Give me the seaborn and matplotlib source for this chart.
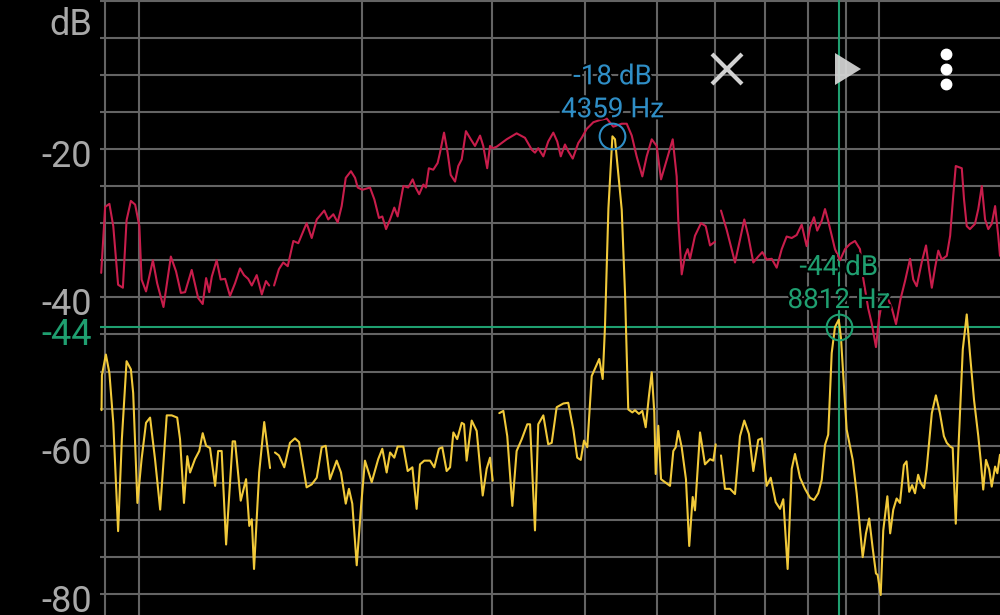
import matplotlib
matplotlib.use("Agg")
import matplotlib.pyplot as plt
import matplotlib.patheffects as pe
from matplotlib.lines import Line2D
from matplotlib.patches import Polygon
from matplotlib.ticker import NullLocator
from matplotlib.transforms import blended_transform_factory
import pandas as pd
import seaborn as sns

# ---------------- data (frequency in kHz, level in dB; None = gap) ----------------
red_khz = [0.889, 0.900, 0.912, 0.923, 0.937, 0.951, 0.962, 0.975, 0.988, 1.001,
           1.008, 1.022, 1.044, 1.058, 1.079, 1.104, 1.122, 1.139, 1.154, 1.178,
           1.202, 1.219, 1.232, 1.244, 1.254, 1.273, 1.289, 1.307, 1.327, 1.348,
           1.369, 1.386, 1.404, 1.420, 1.442, 1.465, 1.484, 1.499, None,
           1.522, 1.545, 1.566, 1.588, 1.616, 1.641, 1.684, 1.711, 1.738, 1.779,
           1.801, 1.830, 1.855, 1.878, 1.902, 1.933, 1.958, 1.974, 2.003, 2.051,
           2.079, 2.109, 2.131, 2.156, 2.183, 2.212, 2.235, 2.275, 2.310, 2.342,
           2.364, 2.390, 2.421, 2.441, 2.463, 2.497, 2.531, 2.550, 2.582, 2.611,
           2.636, 2.672, 2.699, 2.728, 2.764, 2.806, 2.843, 2.888, 2.917, 2.953,
           2.979, 3.004, 3.041, 3.137, 3.236, 3.321, 3.392, 3.426, 3.461, 3.516,
           3.570, 3.627, 3.672, 3.712, 3.761, 3.799, 3.853, 3.920, 3.962, 4.024,
           4.108, 4.194, 4.282, 4.371, 4.487, 4.557, 4.629, 4.700, 4.784, 4.849,
           4.926, 5.002, 5.070, 5.160, 5.258, 5.323, 5.349, 5.407, 5.463, 5.508,
           5.549, 5.635, 5.742, 5.826, 5.905, 5.997, None,
           6.110, 6.219, 6.382, 6.482, 6.569, 6.650, 6.756, 6.860, 6.948, 7.042,
           7.154, 7.265, 7.380, 7.494, 7.613, 7.731, 7.853, 7.975, 8.059, 8.159,
           8.241, 8.357, 8.443, 8.528, 8.709, 8.847, 8.985, 9.126, 9.268, 9.414,
           9.511, 9.658, 9.763, 9.893, 9.984, 10.08, 10.23, 10.39, 10.53, 10.68,
           10.83, 11.00, 11.11, 11.23, 11.41, 11.56, 11.67, 11.77, 11.89, 12.01,
           12.14, 12.33, 12.46, 12.58, 12.68, 12.92, 13.01, 13.12, 13.25, 13.46,
           13.60, 13.75, 13.89, 14.03, 14.18, 14.33, 14.47, 14.55]
red_db = [-36.7, -27.8, -27.4, -30.4, -38.3, -38.7, -29.6, -27.0, -27.5, -30.4,
          -37.6, -39.2, -35.0, -38.1, -41.3, -34.5, -36.5, -39.4, -39.3, -36.3,
          -40.1, -40.9, -37.4, -39.3, -37.2, -35.0, -37.6, -37.5, -39.8, -38.1,
          -36.1, -37.0, -37.5, -38.4, -37.0, -39.6, -37.8, -38.4, None,
          -38.4, -36.2, -35.3, -35.8, -32.4, -32.7, -30.0, -32.0, -29.5, -28.3,
          -29.5, -28.8, -29.9, -27.7, -23.9, -23.0, -23.9, -25.2, -25.5, -25.2,
          -26.8, -29.3, -29.1, -30.8, -29.5, -27.9, -29.1, -25.0, -25.2, -24.1,
          -25.2, -26.1, -24.8, -25.2, -22.6, -22.8, -21.9, -20.5, -17.8, -20.5,
          -23.5, -24.4, -22.3, -21.4, -17.6, -18.7, -19.6, -18.2, -19.6, -22.6,
          -19.6, -19.9, -19.7, -18.7, -17.9, -18.5, -20.1, -20.5, -19.9, -21.0,
          -19.0, -17.8, -19.0, -21.0, -19.4, -20.3, -21.3, -19.2, -18.5, -17.3,
          -16.4, -16.1, -15.9, -17.0, -16.6, -16.6, -18.2, -21.0, -23.7, -21.0,
          -18.7, -19.6, -24.1, -21.5, -18.7, -23.7, -29.5, -36.9, -34.4, -33.5,
          -34.8, -31.7, -30.0, -30.4, -33.0, -32.5, None,
          -28.3, -30.9, -35.3, -32.2, -29.5, -31.7, -35.3, -34.5, -33.9, -34.9,
          -34.8, -36.0, -33.5, -31.8, -32.0, -31.6, -30.2, -33.1, -30.6, -29.2,
          -31.0, -29.7, -28.1, -29.7, -33.5, -35.0, -33.5, -32.8, -32.4, -33.5,
          -37.5, -41.5, -43.5, -46.7, -43.0, -40.6, -39.8, -41.4, -43.6, -40.2,
          -37.8, -34.8, -37.6, -38.5, -35.2, -33.0, -36.2, -38.7, -36.0, -33.7,
          -34.9, -34.4, -31.7, -26.3, -22.3, -22.6, -26.8, -30.4, -30.8, -30.1,
          -28.1, -25.0, -29.5, -30.8, -30.1, -27.7, -31.7, -34.4]

yel_khz = [0.890, 0.891, 0.902, 0.912, 0.923, 0.937, 0.948, 0.962, 0.975, 0.982,
           0.995, 1.008, 1.022, 1.035, 1.051, 1.068, 1.090, 1.107, 1.126, 1.136,
           1.150, 1.162, 1.172, 1.190, 1.206, 1.219, 1.232, 1.247, 1.267, 1.279,
           1.293, 1.311, 1.338, 1.348, 1.372, 1.395, 1.409, 1.420, 1.430, 1.453,
           1.476, 1.503, None,
           1.526, 1.545, 1.571, 1.599, 1.624, 1.645, 1.684, 1.711, 1.738, 1.765,
           1.787, 1.811, 1.849, 1.874, 1.902, 1.921, 1.941, 1.968, 1.995, 2.019,
           2.062, 2.104, 2.131, 2.160, 2.183, 2.212, 2.235, 2.275, 2.306, 2.340,
           2.371, 2.396, 2.428, 2.472, 2.505, 2.541, 2.568, 2.603, 2.631, 2.658,
           2.690, 2.728, 2.748, 2.770, 2.814, 2.858, 2.912, 2.948, 2.979, 3.004, None,
           3.066, 3.105, 3.143, 3.193, 3.236, 3.288, 3.345, 3.374, 3.426, 3.461,
           3.516, 3.570, 3.609, 3.665, 3.742, 3.799, 3.860, 3.907, 3.950, 3.990,
           4.031, 4.087, 4.184, 4.229, 4.259, 4.305, 4.359, 4.394, 4.487, 4.533,
           4.579, 4.637, 4.676, 4.733, 4.784, 4.834, 4.883, 4.926, 4.965, 4.987,
           5.027, 5.070, 5.133, 5.214, 5.268, 5.307, 5.349, 5.407, 5.479, 5.535,
           5.595, 5.635, 5.724, 5.813, 5.905, 5.966, 6.010, None,
           6.110, 6.186, 6.284, 6.382, 6.482, 6.569, 6.664, 6.756, 6.860, 6.935,
           7.042, 7.132, 7.243, 7.341, 7.416, 7.517, 7.613, 7.691, 7.812, 7.934,
           8.059, 8.159, 8.267, 8.357, 8.443, 8.528, 8.621, 8.709, 8.812, 8.874,
           8.938, 9.031, 9.203, 9.317, 9.493, 9.590, 9.687, 9.793, 9.893, 9.945,
           10.04, 10.12, 10.25, 10.34, 10.44, 10.55, 10.66, 10.79, 10.88, 10.97,
           11.07, 11.17, 11.28, 11.37, 11.49, 11.58, 11.77, 11.92, 12.07, 12.22,
           12.33, 12.46, 12.56, 12.68, 12.78, 12.96, 13.12, 13.25, 13.42, 13.60,
           13.70, 13.81, 13.93, 14.07, 14.18, 14.33, 14.43, 14.55]
yel_db = [-55.2, -50.5, -47.7, -50.2, -56.9, -71.5, -59.1, -48.6, -49.7, -52.9,
          -67.7, -61.8, -56.9, -56.2, -61.8, -68.6, -55.9, -55.9, -56.2, -59.1,
          -67.7, -61.4, -63.6, -61.8, -60.7, -58.3, -60.0, -60.3, -65.4, -60.7,
          -60.7, -73.3, -59.4, -59.4, -67.4, -64.5, -70.8, -69.9, -76.6, -63.6,
          -56.8, -63.0, None,
          -60.9, -61.3, -62.9, -59.6, -59.0, -59.5, -65.6, -65.2, -64.3, -60.2,
          -60.0, -64.5, -62.0, -63.6, -67.8, -65.8, -67.8, -76.1, -68.1, -62.0,
          -64.9, -61.8, -60.4, -63.6, -60.9, -61.6, -60.1, -60.1, -63.4, -62.9,
          -68.5, -62.5, -62.0, -62.0, -62.9, -60.4, -60.2, -63.4, -62.9, -58.2,
          -59.1, -56.9, -57.1, -62.0, -56.6, -58.0, -66.7, -63.1, -61.6, -64.7, None,
          -55.6, -55.3, -58.7, -68.1, -60.7, -59.1, -57.1, -57.1, -71.4, -57.1,
          -55.9, -59.8, -59.6, -54.8, -54.3, -54.2, -57.8, -61.6, -61.9, -59.3,
          -60.2, -50.6, -48.3, -51.0, -44.0, -28.0, -18.3, -18.7, -28.2, -39.4,
          -55.1, -55.5, -55.2, -55.7, -55.3, -57.5, -53.3, -50.1, -55.5, -63.8,
          -57.3, -64.5, -64.9, -65.4, -60.7, -60.2, -58.0, -60.2, -64.5, -73.5,
          -66.9, -68.7, -58.2, -62.5, -61.8, -62.0, -59.8, None,
          -61.3, -65.8, -65.8, -66.5, -58.7, -56.6, -58.4, -63.4, -59.2, -59.0,
          -65.4, -64.3, -67.6, -68.5, -67.2, -76.6, -63.1, -61.1, -64.3, -65.8,
          -67.0, -67.3, -66.4, -64.6, -59.9, -58.5, -47.5, -44.0, -43.0, -45.5,
          -50.6, -57.8, -61.9, -66.4, -75.0, -71.8, -69.8, -73.8, -77.2, -77.4,
          -80.1, -71.4, -66.8, -71.8, -68.6, -67.1, -67.7, -62.6, -62.1, -66.2,
          -65.3, -66.4, -63.9, -65.0, -65.7, -63.2, -55.6, -53.2, -55.6, -58.7,
          -59.6, -60.1, -60.3, -70.5, -60.8, -47.0, -42.3, -47.5, -53.8, -58.7,
          -61.9, -65.9, -61.9, -63.2, -65.5, -62.8, -63.7, -61.2]

peak_khz, peak_db = 4.359, -18.3          # blue peak marker
cursor_khz, cursor_db = 8.812, -44.0      # green cursor
grid_khz = [0.9, 1, 2, 3, 4, 5, 6, 7, 8, 9, 10]
grid_db = [0, -5, -10, -15, -20, -25, -30, -35, -40, -45, -50, -55, -60, -65, -70, -75, -80]
label_db = [-20, -40, -60, -80]
x_range = (0.8857, 14.55)
y_range = (-82.8, 0.07)

# ---------------- style ----------------
RED = "#c81d4b"
YEL = "#f1c93a"
GREEN = "#1f9f70"
BLUE = "#2f8ec6"
GRAY = "#a8a8a8"
GRID = "#646464"

sns.set_theme(style="dark")
plt.rcParams["font.family"] = ["Roboto", "DejaVu Sans"]

W, H = 1000, 615
fig = plt.figure(figsize=(W / 100, H / 100), dpi=100, facecolor="black")
ax = fig.add_axes([100 / W, 0, 1 - 100 / W, 1])
ax.set_facecolor("black")
ax.set_xscale("log")


def frame(khz, db):
    df = pd.DataFrame({"khz": khz, "db": db}, dtype=float)
    df["seg"] = df["db"].isna().cumsum()
    return df.dropna()


red = frame(red_khz, red_db)
yel = frame(yel_khz, yel_db)

sns.lineplot(data=red, x="khz", y="db", units="seg", estimator=None, sort=False,
             color=RED, lw=1.5, ax=ax, legend=False, zorder=3)
sns.lineplot(data=yel, x="khz", y="db", units="seg", estimator=None, sort=False,
             color=YEL, lw=1.5, ax=ax, legend=False, zorder=4)

ax.set_xlabel("")
ax.set_ylabel("")
ax.set_xlim(*x_range)
ax.set_ylim(*y_range)
ax.set_xticks(grid_khz)
ax.xaxis.set_minor_locator(NullLocator())
ax.set_yticks(grid_db)
ax.yaxis.set_minor_locator(NullLocator())
ax.tick_params(length=0, labelbottom=False, labelleft=False)
ax.grid(True, which="major", color=GRID, lw=1.5)
ax.set_axisbelow(True)
for s in ax.spines.values():
    s.set_visible(False)

# cursor lines
ax.axhline(cursor_db, color=GREEN, lw=1.5, zorder=2)
ax.axvline(cursor_khz, color=GREEN, lw=1.5, zorder=2)

# y labels
trans = blended_transform_factory(ax.transAxes, ax.transData)
for v in label_db:
    ax.annotate(f"{v}", xy=(0, v), xycoords=trans, xytext=(-8, -18),
                textcoords="offset pixels", ha="right", va="baseline",
                fontsize=26, color=GRAY, annotation_clip=False)
ax.annotate(f"{round(cursor_db)}", xy=(0, cursor_db), xycoords=trans, xytext=(-8, -18),
            textcoords="offset pixels", ha="right", va="baseline",
            fontsize=26, color=GREEN, annotation_clip=False)
fig.text(92 / W, 1 - 35 / H, "dB", ha="right", va="baseline", fontsize=26, color=GRAY)

# markers
stroke = [pe.withStroke(linewidth=3, foreground="black")]
for fk, fd, col in [(peak_khz, peak_db, BLUE), (cursor_khz, cursor_db, GREEN)]:
    ax.plot([fk], [fd], marker="o", ms=18.5, mfc="none", mec=col, mew=1.5, zorder=6)
    ax.annotate(f"{round(fd)} dB", xy=(fk, fd), xytext=(0, 52), textcoords="offset pixels",
                ha="center", va="baseline", fontsize=20, color=col, zorder=7,
                path_effects=stroke)
    ax.annotate(f"{round(fk * 1000)} Hz", xy=(fk, fd), xytext=(0, 19), textcoords="offset pixels",
                ha="center", va="baseline", fontsize=20, color=col, zorder=7,
                path_effects=stroke)


# toolbar icons (figure pixel coordinates)
def P(x, y):
    return (x / W, 1 - y / H)


for (x0, y0), (x1, y1) in [((712, 54), (742, 84)), ((712, 84), (742, 54))]:
    fig.add_artist(Line2D([P(x0, y0)[0], P(x1, y1)[0]], [P(x0, y0)[1], P(x1, y1)[1]],
                          transform=fig.transFigure, color="#d2d2d2", lw=3.0,
                          solid_capstyle="butt"))
fig.add_artist(Polygon([P(835, 53), P(835, 85), P(861, 69)], closed=True,
                       transform=fig.transFigure, facecolor="#d6d6d6", edgecolor="none",
                       alpha=0.92))
fig.add_artist(Line2D([P(946, 54)[0]] * 3, [P(946, 54)[1], P(946, 69)[1], P(946, 84)[1]],
                      transform=fig.transFigure, ls="none", marker="o", ms=7.5,
                      color="white"))

fig.savefig("out.png", dpi=100, facecolor="black")
